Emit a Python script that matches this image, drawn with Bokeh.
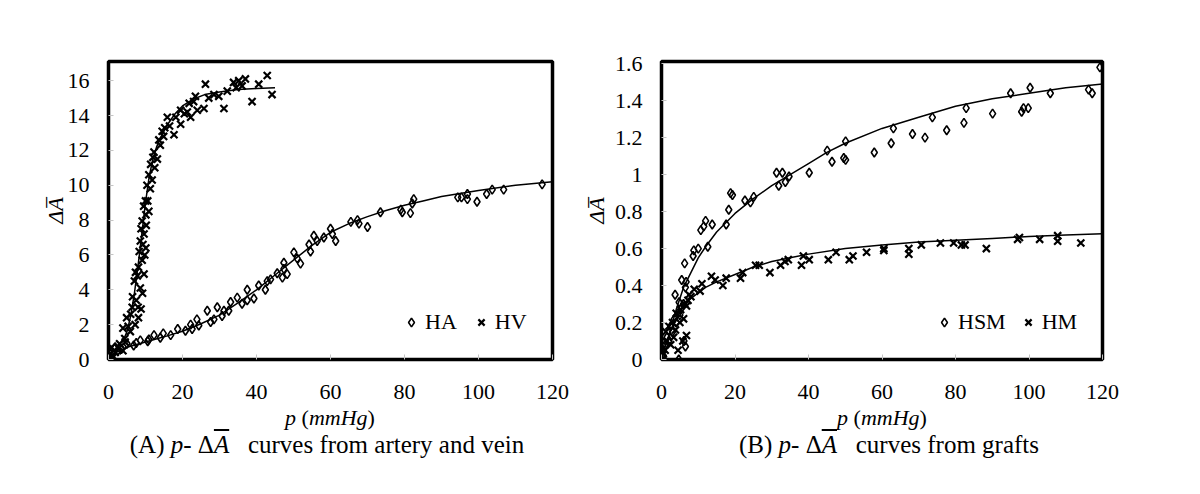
import math
from bokeh.plotting import figure
from bokeh.models import Range1d, FixedTicker, Legend, LegendItem, Div
from bokeh.layouts import row, column
from bokeh.embed import file_html
from bokeh.resources import INLINE

# ---------------- data ----------------
ha_p = [0.1, 0.9, 0.5, 1.8, 1.2, 2.5, 3.5, 5.0, 6.8, 7.5, 8.6, 10.6, 10.9, 12.3, 14.0, 14.8, 16.8, 18.7,
        20.8, 22.2, 22.6, 23.9, 24.4, 26.7, 27.6, 28.5, 29.4, 30.7, 31.2, 32.5, 33.0, 34.8, 36.1, 37.5,
        37.5, 39.3, 40.6, 42.4, 42.9, 43.8, 45.6, 47.0, 47.4, 47.4, 48.3, 50.1, 51.0, 51.9, 54.2, 54.6,
        55.5, 56.4, 58.2, 60.0, 60.5, 61.4, 65.5, 67.3, 67.7, 70.0, 73.5, 79.0, 79.4, 81.6, 82.1, 82.5,
        94.4, 95.4, 97.0, 97.0, 99.6, 102.2, 103.7, 106.8, 117.2]
ha_a = [0.13, 0.0, 0.5, 0.7, 0.3, 0.5, 0.6, 0.9, 0.8, 0.95, 1.1, 1.05, 1.15, 1.4, 1.25, 1.5, 1.4, 1.75,
        1.65, 2.0, 1.75, 2.3, 1.95, 2.8, 2.15, 2.3, 3.0, 2.5, 2.8, 2.8, 3.3, 3.55, 3.2, 4.0,
        3.4, 3.5, 4.25, 4.0, 4.5, 4.6, 4.95, 4.7, 5.55, 5.2, 4.9, 6.15, 5.8, 5.5, 6.6, 6.2,
        7.1, 6.8, 7.0, 7.5, 7.2, 6.8, 7.9, 8.0, 7.8, 7.6, 8.45, 8.6, 8.45, 8.4, 8.95, 9.2,
        9.3, 9.3, 9.5, 9.2, 9.05, 9.5, 9.75, 9.75, 10.05]

hv_p = [42.9, 44.2, 38.8, 40.6, 37.0, 35.2, 33.8, 36.1, 31.2, 32.1, 29.8, 26.2, 27.1, 25.8, 23.5, 23.0,
        22.2, 24.0, 19.5, 21.3, 17.7, 19.5, 15.9, 14.5, 14.9, 14.0, 12.3, 13.2, 11.4, 10.9, 10.4, 11.3,
        10.0, 10.9, 10.6, 10.1, 9.1, 9.6, 10.1, 8.6, 9.1, 8.1, 9.6, 7.0, 8.6, 7.5, 6.4, 8.1, 4.9, 5.9,
        3.9, 4.4, 2.4, 0.8, 1.2, 3.9, 0.0, 9.5, 8.8, 9.8, 8.3, 7.8, 9.2, 8.8, 7.2, 6.5, 8.0, 12.5, 11.8,
        13.6, 16.5, 18.2, 20.5, 21.8, 28.5, 34.5, 12.0, 15.2, 10.2, 9.3, 7.3, 6.0, 5.3, 3.0, 1.8, 0.3, 4.5]
hv_a = [16.3, 15.2, 14.8, 15.8, 16.1, 16.0, 15.9, 15.7, 14.4, 15.4, 15.1, 15.8, 15.0, 14.4, 15.1, 14.8,
        13.9, 14.3, 14.3, 14.2, 12.9, 13.5, 13.9, 13.1, 12.8, 12.3, 11.9, 11.5, 11.2, 10.6, 10.0, 9.8,
        9.1, 8.5, 9.1, 8.3, 7.95, 7.2, 6.4, 6.8, 5.7, 5.3, 4.9, 4.5, 4.1, 3.4, 3.0, 2.4, 2.4, 1.6,
        1.8, 1.2, 0.7, 0.7, 0.2, 0.5, 0.05, 8.8, 7.5, 6.0, 6.2, 4.8, 3.8, 2.9, 2.0, 3.6, 3.0, 11.0, 10.3,
        12.6, 13.4, 13.9, 14.1, 14.7, 15.2, 15.6, 11.6, 13.3, 7.7, 6.6, 5.0, 2.6, 1.9, 0.9, 0.4, 0.6, 1.0]

ha_fit_p = [0, 5, 10, 15, 20, 25, 30, 35, 40, 45, 50, 55, 60, 65, 70, 75, 80, 85, 90, 100, 110, 120]
ha_fit_a = [0.2, 0.7, 1.0, 1.3, 1.62, 2.05, 2.55, 3.25, 4.0, 4.85, 5.7, 6.55, 7.3, 7.8, 8.2, 8.55,
            8.85, 9.1, 9.35, 9.7, 10.0, 10.2]
hv_fit_p = [0, 2, 4, 5, 6, 7, 8, 9, 10, 11, 12, 13, 14, 16, 18, 20, 23, 26, 30, 35, 40, 45]
hv_fit_a = [0.3, 0.6, 1.1, 1.6, 2.5, 3.8, 5.4, 7.2, 9.0, 10.5, 11.5, 12.2, 12.7, 13.5, 14.1, 14.55,
            14.95, 15.2, 15.35, 15.5, 15.55, 15.6]

hsm_p = [119.3, 116.2, 117.2, 105.8, 100.3, 95.0, 98.0, 98.5, 99.8, 90.1, 82.9, 82.3, 77.6, 73.7, 71.7,
         68.3, 63.1, 62.5, 57.9, 50.1, 50.1, 49.6, 46.4, 45.1, 40.2, 34.7, 32.9, 33.7, 31.9, 31.3, 25.1,
         24.2, 22.7, 19.3, 18.8, 18.3, 17.6, 13.8, 12.0, 11.5, 10.7, 12.6, 10.0, 8.8, 8.6, 6.3, 5.5, 6.7,
         6.5, 3.7, 4.8, 6.5, 6.1, 4.7, 0.0, 0.7, 0.5, 1.0, 1.5, 2.0, 2.5, 3.0, 3.5, 4.0, 4.5, 5.0, 5.5,
         6.0]
hsm_a = [1.58, 1.46, 1.44, 1.44, 1.47, 1.44, 1.34, 1.36, 1.36, 1.33, 1.36, 1.28, 1.24, 1.31, 1.20,
         1.22, 1.25, 1.17, 1.12, 1.18, 1.08, 1.09, 1.07, 1.13, 1.01, 0.99, 1.01, 0.96, 0.94, 1.01, 0.88,
         0.85, 0.86, 0.89, 0.90, 0.81, 0.73, 0.73, 0.75, 0.72, 0.70, 0.61, 0.60, 0.59, 0.56, 0.52, 0.43,
         0.42, 0.39, 0.35, 0.31, 0.07, 0.10, 0.0, 0.05, 0.09, 0.02, 0.08, 0.12, 0.10, 0.18, 0.15, 0.22,
         0.20, 0.25, 0.24, 0.28, 0.30]

hm_p = [114.1, 107.8, 107.8, 102.9, 97.4, 96.9, 88.4, 82.6, 81.6, 79.5, 75.9, 70.7, 67.3, 67.3, 60.5,
        60.5, 55.8, 52.1, 51.1, 47.5, 45.4, 40.2, 38.6, 38.1, 34.5, 33.6, 32.4, 29.5, 26.6, 25.6, 22.1,
        21.5, 17.6, 16.7, 14.6, 13.6, 11.0, 10.5, 8.9, 6.8, 6.8, 5.8, 0.0, 0.5, 1.0, 1.2, 1.5, 2.0, 2.5,
        3.0, 3.3, 3.8, 4.0, 4.5, 5.0, 5.2, 6.0, 6.3, 7.2, 7.5, 8.0]
hm_a = [0.63, 0.67, 0.64, 0.65, 0.66, 0.65, 0.60, 0.62, 0.62, 0.63, 0.63, 0.62, 0.60, 0.57, 0.60,
        0.59, 0.58, 0.56, 0.54, 0.58, 0.54, 0.54, 0.56, 0.51, 0.54, 0.53, 0.51, 0.47, 0.51, 0.51, 0.47,
        0.44, 0.44, 0.40, 0.43, 0.45, 0.41, 0.37, 0.38, 0.29, 0.13, 0.10, 0.0, 0.03, 0.05, 0.15, 0.10,
        0.18, 0.08, 0.20, 0.12, 0.16, 0.25, 0.05, 0.20, 0.27, 0.22, 0.30, 0.32, 0.35, 0.34]

hsm_fit_p = [3, 4, 5, 6, 8, 10, 12, 15, 20, 25, 30, 35, 40, 45, 50, 60, 70, 80, 90, 100, 110, 120]
hsm_fit_a = [0.2, 0.27, 0.33, 0.39, 0.47, 0.55, 0.61, 0.69, 0.79, 0.87, 0.94, 1.0, 1.06, 1.12, 1.17,
             1.25, 1.31, 1.37, 1.41, 1.44, 1.47, 1.49]
hm_fit_p = [0, 1, 2, 3, 4, 6, 8, 10, 12, 15, 20, 25, 30, 35, 40, 50, 60, 70, 80, 90, 100, 110, 120]
hm_fit_a = [0.0, 0.07, 0.13, 0.18, 0.22, 0.29, 0.33, 0.36, 0.39, 0.42, 0.46, 0.5, 0.53, 0.55, 0.57,
            0.6, 0.62, 0.635, 0.645, 0.655, 0.665, 0.673, 0.68]

x_ticks = [0, 20, 40, 60, 80, 100, 120]
y_ticks_a = [0, 2, 4, 6, 8, 10, 12, 14, 16]
y_ticks_b = [0, 0.2, 0.4, 0.6, 0.8, 1.0, 1.2, 1.4, 1.6]
y_labels_b = ["0", "0.2", "0.4", "0.6", "0.8", "1", "1.2", "1.4", "1.6"]

y_label = "\u0394A\u0305"
x_label_html = "<i>p</i> (<i>mmHg</i>)"
abar_html = "<i style=\"text-decoration:overline;\">A</i>"
caption_a_html = f"(A) <i>p</i>- \u0394{abar_html}&nbsp;&nbsp; curves from artery and vein"
caption_b_html = f"(B) <i>p</i>- \u0394{abar_html}&nbsp;&nbsp; curves from grafts"

FONT = "Liberation Serif"
FIG_H = 408


def make_fig(frame_w, left, right, ymax, yticks, ylab_standoff):
    p = figure(frame_width=frame_w, frame_height=298, min_border_left=left, min_border_right=right,
               min_border_top=61, min_border_bottom=FIG_H - 61 - 298, x_range=Range1d(0, 120),
               y_range=Range1d(0, ymax), output_backend="svg", toolbar_location=None)
    p.grid.visible = False
    p.outline_line_color = "black"
    p.outline_line_width = 3.5
    p.background_fill_color = "white"
    p.border_fill_color = "white"
    for ax in (p.xaxis[0], p.yaxis[0]):
        ax.axis_line_color = None
        ax.major_tick_in = 5
        ax.major_tick_out = 0
        ax.major_tick_line_color = "#c4c4c4"
        ax.minor_tick_line_color = None
        ax.major_label_text_font = FONT
        ax.major_label_text_font_size = "22px"
        ax.major_label_text_color = "black"
    p.xaxis.ticker = FixedTicker(ticks=x_ticks)
    p.yaxis.ticker = FixedTicker(ticks=yticks)
    p.xaxis.major_label_standoff = 25
    p.yaxis.major_label_standoff = 19
    p.yaxis.axis_label = y_label
    p.yaxis.axis_label_text_font = FONT
    p.yaxis.axis_label_text_font_size = "22px"
    p.yaxis.axis_label_text_font_style = "italic"
    p.yaxis.axis_label_text_color = "black"
    p.yaxis.axis_label_standoff = ylab_standoff
    return p


def legend(items, loc, spacing):
    return Legend(items=items, location=loc, orientation="horizontal", glyph_width=22, glyph_height=22,
                  label_standoff=3, spacing=spacing, padding=0, margin=0, border_line_color=None,
                  background_fill_alpha=0, label_text_font=FONT, label_text_font_size="22px",
                  label_text_color="black")


def caption_div(width, x_left, x_width, c_left, c_width, x_html, cap_html):
    html = (
        f"<div style=\"position:relative; width:{width}px; height:64px; font-family:'{FONT}'; "
        "color:black; white-space:nowrap;\">"
        f"<div style=\"position:absolute; top:0px; left:{x_left}px; width:{x_width}px; text-align:center; "
        f"font-size:22px; line-height:20px;\">{x_html}</div>"
        f"<div style=\"position:absolute; top:25px; left:{c_left}px; width:{c_width}px; text-align:center; "
        f"font-size:25px; line-height:24px;\">{cap_html}</div>"
        "</div>")
    return Div(text=html, width=width, height=64, margin=0)


# ---------------- panel A ----------------
pa = make_fig(444, 108, 28, 17.1, y_ticks_a, -3)
pa.line(ha_fit_p, ha_fit_a, line_color="black", line_width=1.5)
pa.line(hv_fit_p, hv_fit_a, line_color="black", line_width=1.5)
r_ha = pa.scatter(ha_p, ha_a, marker="diamond", size=9, fill_color=None,
                  line_color="black", line_width=1.6)
r_hv = pa.scatter(hv_p, hv_a, marker="x", size=10, line_color="black", line_width=2.2)
pa.add_layout(legend([LegendItem(label="HA", renderers=[r_ha]),
                      LegendItem(label="HV", renderers=[r_hv])], (292, 24), 13))

# ---------------- panel B ----------------
pb = make_fig(441, 81, 90, 1.612, y_ticks_b, 3)
pb.yaxis.major_label_overrides = {t: s for t, s in zip(y_ticks_b, y_labels_b)}
pb.line(hsm_fit_p, hsm_fit_a, line_color="black", line_width=1.5)
pb.line(hm_fit_p, hm_fit_a, line_color="black", line_width=1.5)
r_hsm = pb.scatter(hsm_p, hsm_a, marker="diamond", size=9, fill_color=None,
                   line_color="black", line_width=1.6)
r_hm = pb.scatter(hm_p, hm_a, marker="x", size=10, line_color="black", line_width=2.2)
pb.add_layout(legend([LegendItem(label="HSM", renderers=[r_hsm]),
                      LegendItem(label="HM", renderers=[r_hm])], (272, 24), 11))

cap_a = caption_div(580, 80, 500, 74, 506, x_label_html, caption_a_html)
cap_b = caption_div(612, 0, 604, 6, 606, x_label_html, caption_b_html)

layout = column(row(pa, pb), row(cap_a, cap_b))
open("out.html", "w").write(file_html(layout, INLINE))
